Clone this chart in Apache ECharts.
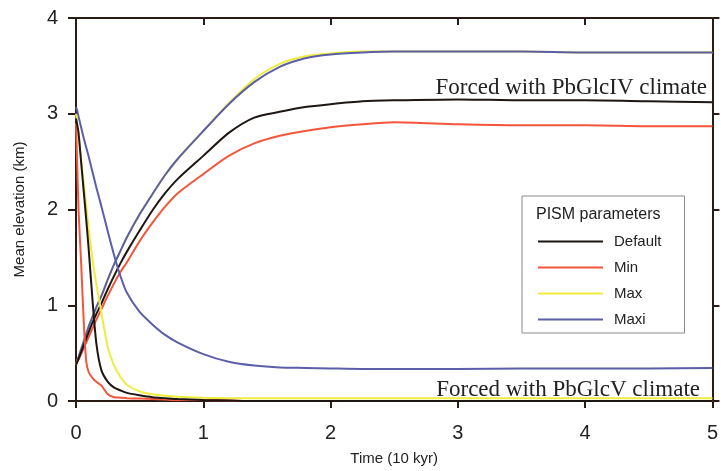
<!DOCTYPE html>
<html>
<head>
<meta charset="utf-8">
<script src="https://cdn.jsdelivr.net/npm/echarts@6/dist/echarts.min.js"></script>
<style>
  html, body { margin: 0; padding: 0; background: #fff; }
  #chart { width: 721px; height: 471px; }
</style>
</head>
<body>
<div id="chart"></div>
<script>
// time in 10 kyr, shared by every run
var time = [0, 0.01, 0.02, 0.04, 0.06, 0.08, 0.1, 0.13, 0.16, 0.2, 0.25, 0.3, 0.35, 0.4, 0.5, 0.6, 0.7, 0.8, 1.0, 1.2, 1.4, 1.6, 1.8, 2.0, 2.25, 2.5, 3.0, 3.5, 4.0, 4.5, 5.0];

// forced with PbGlcIV climate (growing)
var defaultIV = [0.38, 0.41, 0.44, 0.51, 0.58, 0.65, 0.72, 0.82, 0.91, 1.02, 1.17, 1.31, 1.44, 1.56, 1.78, 1.99, 2.17, 2.32, 2.56, 2.80, 2.96, 3.02, 3.07, 3.10, 3.13, 3.14, 3.15, 3.14, 3.14, 3.13, 3.12];
var minIV = [0.38, 0.41, 0.43, 0.49, 0.55, 0.61, 0.67, 0.76, 0.85, 0.96, 1.10, 1.23, 1.35, 1.45, 1.67, 1.86, 2.03, 2.17, 2.37, 2.56, 2.69, 2.77, 2.82, 2.86, 2.89, 2.91, 2.89, 2.88, 2.88, 2.87, 2.87];
var maxIV = [0.38, 0.42, 0.46, 0.54, 0.62, 0.70, 0.78, 0.88, 0.98, 1.10, 1.27, 1.43, 1.57, 1.71, 1.95, 2.16, 2.36, 2.53, 2.82, 3.11, 3.36, 3.52, 3.60, 3.63, 3.65, 3.65, 3.65, 3.65, 3.64, 3.64, 3.64];
var maxiIV = [0.38, 0.42, 0.46, 0.54, 0.62, 0.70, 0.78, 0.88, 0.98, 1.10, 1.27, 1.43, 1.57, 1.71, 1.95, 2.16, 2.36, 2.53, 2.82, 3.10, 3.33, 3.49, 3.58, 3.62, 3.64, 3.65, 3.65, 3.65, 3.64, 3.64, 3.64];

// forced with PbGlcV climate (melting)
var defaultV = [2.95, 2.88, 2.80, 2.50, 2.20, 1.90, 1.58, 1.05, 0.60, 0.32, 0.20, 0.14, 0.11, 0.085, 0.06, 0.04, 0.03, 0.02, 0.01, 0.005, 0, 0, 0, 0, 0, 0, 0, 0, 0, 0, 0];
var minV = [2.90, 2.45, 2.00, 1.45, 0.85, 0.42, 0.30, 0.24, 0.20, 0.16, 0.07, 0.04, 0.035, 0.03, 0.025, 0.02, 0.015, 0.01, 0.01, 0.005, 0, 0, 0, 0, 0, 0, 0, 0, 0, 0, 0];
var maxV = [3.00, 2.88, 2.76, 2.52, 2.28, 2.05, 1.80, 1.48, 1.22, 0.92, 0.56, 0.37, 0.25, 0.17, 0.10, 0.07, 0.055, 0.045, 0.035, 0.03, 0.03, 0.03, 0.03, 0.03, 0.03, 0.03, 0.03, 0.03, 0.03, 0.03, 0.03];
var maxiV = [3.07, 3.03, 2.97, 2.86, 2.75, 2.65, 2.55, 2.39, 2.23, 2.03, 1.77, 1.52, 1.30, 1.13, 0.93, 0.80, 0.69, 0.61, 0.49, 0.41, 0.37, 0.35, 0.345, 0.34, 0.335, 0.335, 0.335, 0.34, 0.34, 0.34, 0.345];

var xTicks = [0, 1, 2, 3, 4, 5];
var yTicks = [0, 1, 2, 3, 4];

var colors = {
  Default: '#1e1612',
  Min: '#f4553b',
  Max: '#efec3c',
  Maxi: '#5b5ea8'
};

function pairs(vals) {
  return time.map(function (t, i) { return [t, vals[i]]; });
}

function line(name, vals) {
  return {
    name: name,
    type: 'line',
    symbol: 'none',
    smooth: 0.25,
    lineStyle: { width: 2, color: colors[name] },
    itemStyle: { color: colors[name] },
    data: pairs(vals)
  };
}

var axisColor = '#2a1c15';
var labelFont = 'Liberation Sans, Arial, sans-serif';
var serifFont = '23px "Liberation Serif", "Times New Roman", serif';

var chart = echarts.init(document.getElementById('chart'));
chart.setOption({
  animation: false,
  backgroundColor: '#fff',
  grid: { left: 76, right: 4, top: 18, bottom: 63, containLabel: false },
  title: {
    text: 'PISM parameters',
    left: 531,
    top: 202,
    textStyle: { fontFamily: labelFont, fontSize: 16, fontWeight: 'normal', color: '#222' }
  },
  legend: {
    orient: 'vertical',
    left: 522,
    top: 196,
    padding: [38, 23, 6, 15],
    itemWidth: 65,
    itemHeight: 14,
    itemGap: 11,
    borderColor: '#8a8a8a',
    borderWidth: 1,
    itemStyle: { opacity: 0 },
    data: ['Default', 'Min', 'Max', 'Maxi'],
    textStyle: { fontFamily: labelFont, fontSize: 15, color: '#222', padding: [0, 0, 0, 6] }
  },
  xAxis: [{
    type: 'value',
    min: 0, max: 5, interval: 1,
    name: 'Time (10 kyr)',
    nameLocation: 'middle',
    nameGap: 50,
    nameTextStyle: { fontFamily: labelFont, fontSize: 15, color: '#222' },
    axisLine: { show: true, onZero: false, lineStyle: { color: axisColor, width: 2 } },
    axisTick: { show: true, inside: false, length: 7, lineStyle: { color: axisColor, width: 2 } },
    axisLabel: {
      margin: 22, fontFamily: labelFont, fontSize: 20, color: '#222',
      formatter: function (v) { return xTicks.indexOf(v) >= 0 ? String(v) : ''; }
    },
    splitLine: { show: false }
  }, {
    type: 'value',
    position: 'top',
    min: 0, max: 5, interval: 1,
    axisLine: { show: true, onZero: false, lineStyle: { color: axisColor, width: 2 } },
    axisTick: { show: true, inside: true, length: 7, lineStyle: { color: axisColor, width: 2 } },
    axisLabel: { show: false },
    splitLine: { show: false }
  }],
  yAxis: [{
    type: 'value',
    min: 0, max: 4, interval: 1,
    name: 'Mean elevation (km)',
    nameLocation: 'middle',
    nameGap: 49,
    nameTextStyle: { fontFamily: labelFont, fontSize: 15, color: '#222' },
    axisLine: { show: true, onZero: false, lineStyle: { color: axisColor, width: 2 } },
    axisTick: { show: true, inside: false, length: 8, lineStyle: { color: axisColor, width: 2 } },
    axisLabel: {
      margin: 18, fontFamily: labelFont, fontSize: 20, color: '#222',
      formatter: function (v) { return yTicks.indexOf(v) >= 0 ? String(v) : ''; }
    },
    splitLine: { show: false }
  }, {
    type: 'value',
    position: 'right',
    min: 0, max: 4, interval: 1,
    axisLine: { show: true, onZero: false, lineStyle: { color: axisColor, width: 2 } },
    axisTick: { show: true, inside: false, length: 7, lineStyle: { color: axisColor, width: 2 } },
    axisLabel: { show: false },
    splitLine: { show: false }
  }],
  graphic: [{
    type: 'text',
    right: 14,
    top: 76,
    style: { text: 'Forced with PbGlcIV climate', font: serifFont, fill: '#222' }
  }, {
    type: 'text',
    right: 21,
    top: 378,
    z: 10,
    style: { text: 'Forced with PbGlcV climate', font: serifFont, fill: '#222' }
  }],
  series: [
    line('Max', maxIV),
    line('Maxi', maxiIV),
    line('Min', minIV),
    line('Default', defaultIV),
    line('Maxi', maxiV),
    line('Max', maxV),
    line('Min', minV),
    line('Default', defaultV)
  ]
});
</script>
</body>
</html>
